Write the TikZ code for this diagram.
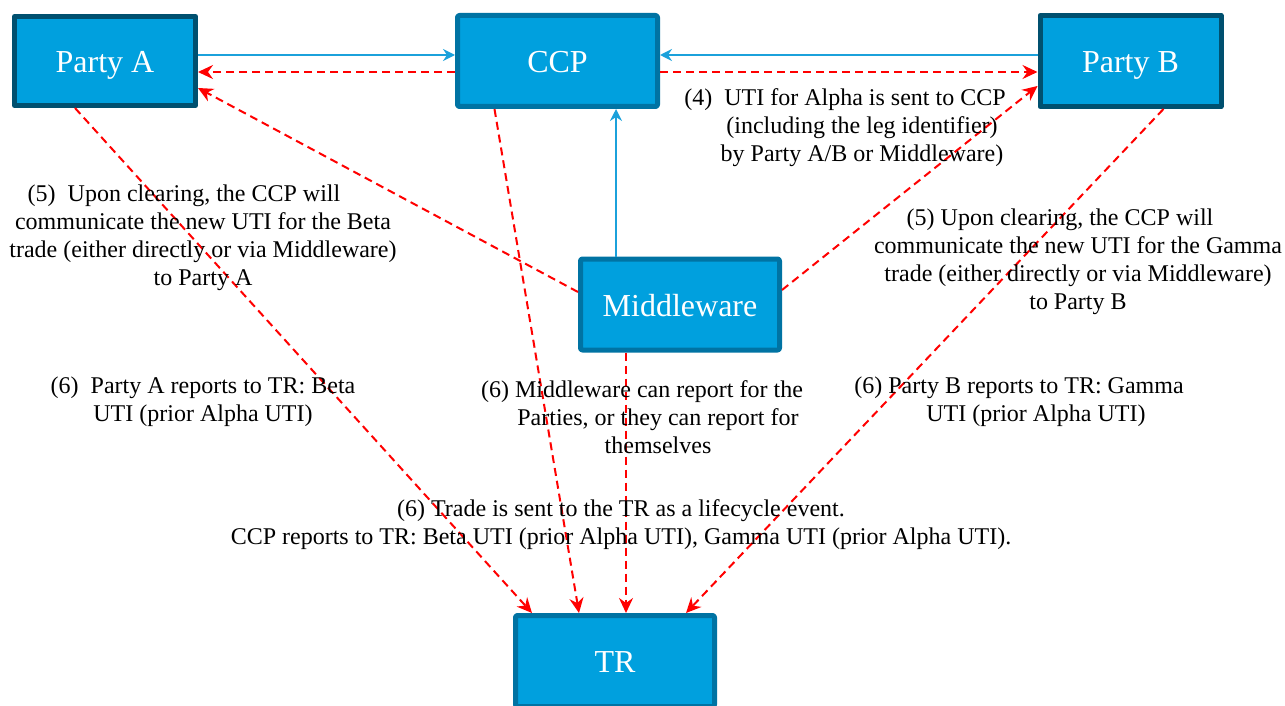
\documentclass[tikz,border=0pt]{standalone}
\usepackage{fontspec}
\setmainfont{Liberation Serif}
\usetikzlibrary{arrows.meta}
\definecolor{boxfill}{HTML}{00A0DE}
\definecolor{darkedge}{HTML}{00506F}
\definecolor{hubedge}{HTML}{0073A3}
\definecolor{linkblue}{HTML}{1BA1DB}

\begin{document}
\begin{tikzpicture}[x=1pt, y=-1pt, line cap=round, line join=round,
    party/.style={draw=darkedge, line width=5pt, fill=boxfill, text=white, inner sep=0pt,
      minimum width=181pt, minimum height=89pt, text height=23pt, text depth=0pt,
      font=\fontsize{32}{38}\selectfont},
    hub/.style={party, draw=hubedge, rounded corners=2pt, minimum width=199pt, minimum height=91pt},
    note/.style={align=center, inner sep=0pt, font=\fontsize{24}{28}\selectfont},
    feed/.style={-{Stealth[length=12pt, width=12pt, inset=4pt]}, color=linkblue, line width=1.8pt, line cap=butt},
    msg/.style={-{Stealth[length=15pt, width=14pt, inset=5pt]}, color=red, line width=2pt, line cap=butt, dash pattern=on 8pt off 5pt}]
    \clip (0,0) rectangle (1285,706);

    % boxes
    \node[party] (pa) at (105,61) {Party A};
    \node[hub, minimum width=200pt] (ccp) at (557.5,61) {CCP};
    \node[party, minimum height=91pt] (pb) at (1130.5,61) {Party B};
    \node[hub] (mw) at (680,304.5) {Middleware};
    \node[hub] (tr) at (615,661) {TR};

    % trade flow to the CCP
    \draw[feed] ([yshift=6pt]pa.east) -- ([yshift=6pt]ccp.west);
    \draw[feed] ([yshift=6pt]pb.west) -- ([yshift=6pt]ccp.east);
    \coordinate (mwtop) at ([xshift=-64pt]mw.north);
    \draw[feed] (mwtop) -- (mwtop |- ccp.south);

    % UTI messages
    \draw[msg] ([yshift=-11pt]ccp.west) -- ([yshift=-11pt]pa.east);
    \draw[msg] ([yshift=-11pt]ccp.east) -- ([yshift=-11pt]pb.west);
    \draw[msg] ([yshift=12.5pt]mw.west) -- ([yshift=-27pt]pa.east);
    \draw[msg] ([yshift=14.5pt]mw.east) -- ([yshift=-25pt]pb.west);

    % reports to the TR
    \draw[msg] ([xshift=-30pt]pa.south) -- ([xshift=-83pt]tr.north);
    \draw[msg] ([xshift=-63pt]ccp.south) -- ([xshift=-36pt]tr.north);
    \draw[msg] ([xshift=-54pt]mw.south) -- ([xshift=11pt]tr.north);
    \draw[msg] ([xshift=33pt]pb.south) -- ([xshift=71pt]tr.north);

    % notes
    \node[note] (step4) at (862,128) {(4)\ \ UTI for Alpha is sent to CCP\hspace*{34pt}\\(including the leg identifier)\\by Party A/B or Middleware)};
    \node[note] (step5a) at (203,238) {(5)\ \ Upon clearing, the CCP will\hspace*{38pt}\\communicate the new UTI for the Beta\\trade (either directly or via Middleware)\\to Party A};
    \node[note] (step5b) at (1078,262) {(5) Upon clearing, the CCP will\hspace*{36pt}\\communicate the new UTI for the Gamma\\trade (either directly or via Middleware)\\to Party B};
    \node[note] (step6a) at (203,402) {(6)\ \ Party A reports to TR: Beta\\UTI (prior Alpha UTI)};
    \node[note] (step6m) at (658,417) {(6) Middleware can report for the\hspace*{32pt}\\Parties, or they can report for\\themselves};
    \node[note] (step6b) at (1036,402) {(6) Party B reports to TR: Gamma\hspace*{34pt}\\UTI (prior Alpha UTI)};
    \node[note] (step6t) at (621,525) {(6) Trade is sent to the TR as a lifecycle event.\\CCP reports to TR: Beta UTI (prior Alpha UTI), Gamma UTI (prior Alpha UTI).};
\end{tikzpicture}
\end{document}
